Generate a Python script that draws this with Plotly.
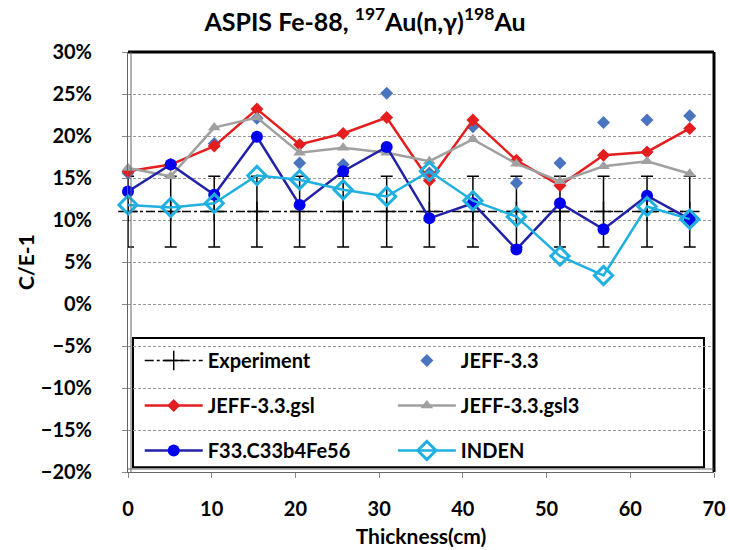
import plotly.graph_objects as go

# ---- data (C/E-1 in %) ----
thickness = [0, 5.1, 10.3, 15.4, 20.5, 25.7, 30.9, 36.0, 41.2, 46.4, 51.6, 56.8, 62.0, 67.1]
experiment = [11.0, 11.0, 11.0, 11.0, 11.0, 11.0, 11.0, 11.0, 11.0, 11.0, 11.0, 11.0, 11.0, 11.0]
exp_err = [4.2, 4.2, 4.2, 4.2, 4.2, 4.2, 4.2, 4.2, 4.2, 4.2, 4.2, 4.2, 4.2, 4.2]
jeff33 = [15.6, 16.6, 19.1, 22.1, 16.8, 16.6, 25.1, 15.6, 21.1, 14.4, 16.8, 21.6, 21.9, 22.4]
jeff33_gsl = [15.8, 16.6, 18.8, 23.2, 19.0, 20.3, 22.2, 14.7, 21.9, 17.1, 14.1, 17.7, 18.1, 20.9]
jeff33_gsl3 = [16.2, 15.2, 21.0, 22.2, 18.0, 18.6, 18.0, 17.0, 19.6, 16.7, 14.6, 16.4, 17.0, 15.5]
f33 = [13.4, 16.6, 13.0, 19.9, 11.8, 15.8, 18.7, 10.2, 12.0, 6.5, 12.0, 8.9, 12.9, 10.1]
inden = [11.8, 11.5, 12.0, 15.3, 14.8, 13.6, 12.8, 15.8, 12.3, 10.4, 5.7, 3.4, 11.6, 10.1]

FONT = "Lato"

fig = go.Figure()

fig.add_trace(go.Scatter(
    x=thickness, y=experiment, name="Experiment", mode="lines+markers",
    line=dict(color="black", width=1.5, dash="dashdot"),
    marker=dict(symbol="cross-thin", size=14, line=dict(color="black", width=1.5)),
    error_y=dict(type="data", array=exp_err, visible=True, color="black", thickness=1.5, width=6),
    legend="legend", legendgroup="a", cliponaxis=False))

fig.add_trace(go.Scatter(
    x=thickness, y=jeff33, name="JEFF-3.3", mode="markers",
    marker=dict(symbol="diamond", size=10, color="#4A74BE"),
    legend="legend2", legendgroup="b", cliponaxis=False))

fig.add_trace(go.Scatter(
    x=thickness, y=jeff33_gsl, name="JEFF-3.3.gsl", mode="lines+markers",
    line=dict(color="#E41E1E", width=2.5),
    marker=dict(symbol="diamond", size=10, color="#E41E1E"),
    legend="legend", legendgroup="c", cliponaxis=False))

fig.add_trace(go.Scatter(
    x=thickness, y=jeff33_gsl3, name="JEFF-3.3.gsl3", mode="lines+markers",
    line=dict(color="#A0A0A0", width=2.5),
    marker=dict(symbol="triangle-up", size=11, color="#A0A0A0"),
    legend="legend2", legendgroup="d", cliponaxis=False))

fig.add_trace(go.Scatter(
    x=thickness, y=f33, name="F33.C33b4Fe56", mode="lines+markers",
    line=dict(color="#2222A8", width=2.5),
    marker=dict(symbol="circle", size=12, color="#0000EE"),
    legend="legend", legendgroup="e", cliponaxis=False))

fig.add_trace(go.Scatter(
    x=thickness, y=inden, name="INDEN", mode="lines+markers",
    line=dict(color="#1FB0E0", width=2.5),
    marker=dict(symbol="diamond-open", size=14, color="#1FB0E0", line=dict(width=3)),
    legend="legend2", legendgroup="f", cliponaxis=False))

legend_common = dict(
    orientation="v", xanchor="left", yanchor="top", bgcolor="rgba(0,0,0,0)",
    borderwidth=0, font=dict(family=FONT, size=20, color="black", weight="bold"),
    tracegroupgap=16, itemwidth=58, itemclick=False)

fig.update_layout(
    width=730, height=550,
    margin=dict(l=128, r=16, t=52, b=78, autoexpand=False),
    paper_bgcolor="white", plot_bgcolor="white",
    font=dict(family=FONT, color="black"),
    title=dict(text="ASPIS Fe-88, <sup>197</sup>Au(n,γ)<sup>198</sup>Au",
               x=0.5, xref="container", xanchor="center",
               y=1 - 22 / 550, yref="container", yanchor="middle",
               font=dict(family=FONT, size=25, weight="bold", color="black")),
    legend=dict(x=0.02, y=0.312, **legend_common),
    legend2=dict(x=0.452, y=0.312, **legend_common),
    showlegend=True,
)

fig.update_xaxes(
    range=[0, 70], dtick=10, tick0=0, automargin=False,
    showgrid=False, zeroline=False,
    showline=True, linecolor="#666", linewidth=1,
    ticks="outside", ticklen=5, tickcolor="#888",
    tickfont=dict(family=FONT, size=20, weight="bold", color="black"),
    ticklabelstandoff=14,
    title=dict(text="Thickness(cm)", font=dict(family=FONT, size=21, weight="bold", color="black"), standoff=10),
)
fig.update_yaxes(
    range=[-20, 30], dtick=5, tick0=0, ticksuffix="%", automargin=False,
    showgrid=True, gridcolor="#999", gridwidth=1, griddash="3px,2px",
    zeroline=False,
    showline=True, linecolor="#666", linewidth=1,
    ticks="outside", ticklen=5, tickcolor="#888",
    tickfont=dict(family=FONT, size=20, weight="bold", color="black"),
    ticklabelstandoff=26,
    title=dict(text="C/E-1", font=dict(family=FONT, size=21, weight="bold", color="black"), standoff=0),
)

# plot frame: thick top/right, double thin left/bottom
pw = 730 - 128 - 16
ph = 550 - 52 - 78
fig.add_shape(type="line", xref="paper", yref="paper", x0=0, x1=1, y0=1, y1=1,
              line=dict(color="black", width=3))
fig.add_shape(type="line", xref="paper", yref="paper", x0=1, x1=1, y0=0, y1=1,
              line=dict(color="black", width=3))
fig.add_shape(type="line", xref="paper", yref="paper", x0=3 / pw, x1=3 / pw, y0=0, y1=1,
              line=dict(color="#666", width=1))
fig.add_shape(type="line", xref="paper", yref="paper", x0=0, x1=1, y0=3 / ph, y1=3 / ph,
              line=dict(color="#666", width=1))
# legend box
fig.add_shape(type="rect", xref="paper", yref="paper",
              x0=5 / pw, x1=576 / pw, y0=3 / ph + 0.004, y1=(472 - 338) / ph,
              line=dict(color="black", width=2), fillcolor="white", layer="below")

fig.write_html("out.html")
